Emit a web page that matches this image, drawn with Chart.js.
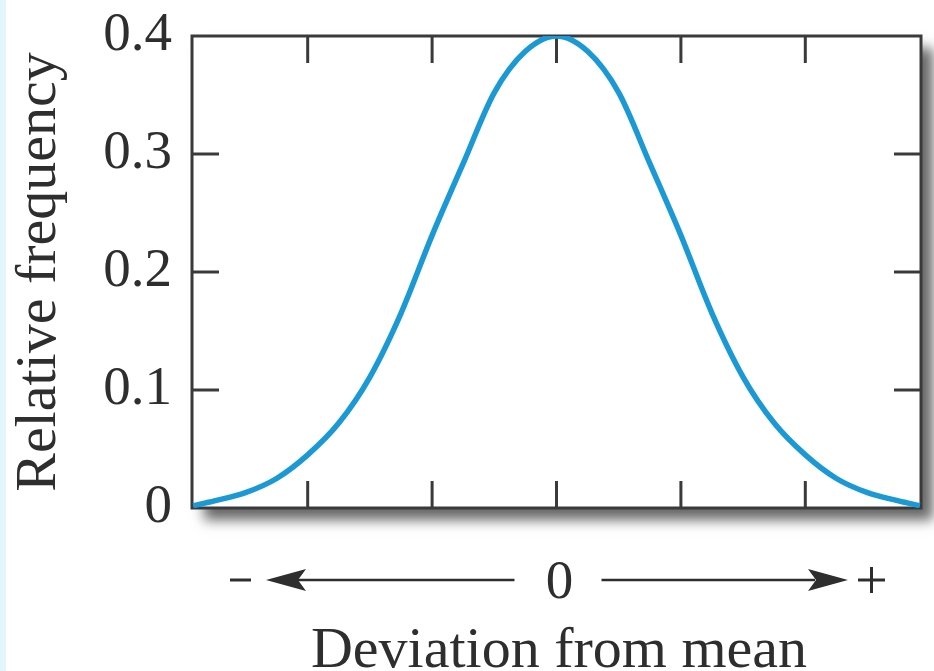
<!DOCTYPE html>
<html>
<head>
<meta charset="utf-8">
<title>Relative frequency</title>
<script src="https://cdn.jsdelivr.net/npm/chart.js@4.4.1/dist/chart.umd.min.js"></script>
<style>
  html, body { margin: 0; padding: 0; background: #fff; }
  body { width: 934px; height: 671px; overflow: hidden; position: relative; }
  #edge { position: absolute; left: 0; top: 0; width: 6px; height: 671px; background: #e3f6fb; }
  canvas { position: absolute; left: 0; top: 0; }
</style>
</head>
<body>
<canvas id="curve" width="934" height="671"></canvas>
<div id="edge"></div>
<script>
// ── DATA ──────────────────────────────────────────────────────
const DEVIATIONS  = [-2.92, -2.75, -2.5, -2.25, -2, -1.75, -1.5, -1.25, -1, -0.75, -0.5, -0.25, 0,
                     0.25, 0.5, 0.75, 1, 1.25, 1.5, 1.75, 2, 2.25, 2.5, 2.75, 2.92];
const FREQUENCIES = [0.002, 0.006, 0.013, 0.025, 0.045, 0.072, 0.111, 0.165, 0.231, 0.292, 0.352, 0.387, 0.400,
                     0.387, 0.352, 0.292, 0.231, 0.165, 0.111, 0.072, 0.045, 0.025, 0.013, 0.006, 0.002];
const Y_TICKS = [0, 0.1, 0.2, 0.3, 0.4];
const X_TICKS = [-2, -1, 0, 1, 2];
const X_RANGE = [-2.93, 2.93];

const INK   = '#2e2e2e';
const SERIF = "'Liberation Serif', 'DejaVu Serif', serif";
const TICK  = 27;

function line(ctx, x1, y1, x2, y2) {
  ctx.beginPath();
  ctx.moveTo(x1, y1);
  ctx.lineTo(x2, y2);
  ctx.stroke();
}

function arrowHead(ctx, tipX, y, dir) {
  // dir = -1 points left, 1 points right
  const len = 40, half = 11, notch = 8;
  ctx.beginPath();
  ctx.moveTo(tipX, y);
  ctx.lineTo(tipX - dir * len, y - half);
  ctx.lineTo(tipX - dir * (len - notch), y);
  ctx.lineTo(tipX - dir * len, y + half);
  ctx.closePath();
  ctx.fill();
}

// ── FRAME, INWARD TICKS, ARROW ROW ────────────────────────────
const framePlugin = {
  id: 'frame',
  beforeDraw(chart) {
    const { ctx, chartArea: a } = chart;
    ctx.save();
    ctx.shadowColor = 'rgba(0,0,0,0.6)';
    ctx.shadowBlur = 12;
    ctx.shadowOffsetX = 12;
    ctx.shadowOffsetY = 12;
    ctx.fillStyle = '#fff';
    ctx.fillRect(a.left, a.top, a.width, a.height);
    ctx.restore();
  },
  beforeDatasetsDraw(chart) {
    const { ctx, chartArea: a, scales: { x, y } } = chart;
    ctx.save();
    ctx.strokeStyle = '#3a3a3a';
    ctx.lineWidth = 3;
    ctx.strokeRect(a.left, a.top, a.width, a.height);
    Y_TICKS.slice(1, -1).forEach(v => {
      const py = y.getPixelForValue(v);
      line(ctx, a.left, py, a.left + TICK, py);
      line(ctx, a.right - TICK, py, a.right, py);
    });
    X_TICKS.forEach(v => {
      const px = x.getPixelForValue(v);
      line(ctx, px, a.top, px, a.top + TICK);
      line(ctx, px, a.bottom - TICK, px, a.bottom);
    });
    ctx.restore();
  },
  afterDraw(chart) {
    const { ctx, scales: { x } } = chart;
    const mid = x.getPixelForValue(0);
    const rowY = 580;
    ctx.save();
    ctx.strokeStyle = INK;
    ctx.fillStyle = INK;

    // minus sign and left arrow
    ctx.lineWidth = 3;
    line(ctx, 230, rowY, 251, rowY);
    ctx.lineWidth = 2.5;
    line(ctx, 295, rowY, mid - 42, rowY);
    arrowHead(ctx, 266, rowY, -1);

    // right arrow and plus sign
    line(ctx, mid + 45, rowY, 815, rowY);
    arrowHead(ctx, 848, rowY, 1);
    ctx.lineWidth = 3;
    line(ctx, 858, rowY, 885, rowY);
    line(ctx, 871.5, rowY - 13, 871.5, rowY + 13);

    ctx.font = `55px ${SERIF}`;
    ctx.textAlign = 'center';
    ctx.textBaseline = 'alphabetic';
    ctx.fillText('0', mid + 3, 598);
    ctx.font = `58px ${SERIF}`;
    ctx.fillText('Deviation from mean', 559, 667);
    ctx.restore();
  }
};

new Chart(document.getElementById('curve'), {
  type: 'line',
  data: {
    datasets: [{
      data: DEVIATIONS.map((d, i) => ({ x: d, y: FREQUENCIES[i] })),
      borderColor: '#1b99d5',
      borderWidth: 5.5,
      pointRadius: 0,
      cubicInterpolationMode: 'monotone',
      fill: false
    }]
  },
  options: {
    responsive: false,
    animation: false,
    events: [],
    layout: { padding: { left: 0, top: 36, right: 13, bottom: 163 } },
    plugins: { legend: { display: false }, tooltip: { enabled: false } },
    scales: {
      x: { type: 'linear', display: false, min: X_RANGE[0], max: X_RANGE[1] },
      y: {
        min: 0,
        max: 0.4,
        afterBuildTicks: s => { s.ticks = Y_TICKS.map(v => ({ value: v })); },
        afterFit: s => { s.width = 192; s.paddingTop = 0; s.paddingBottom = 0; },
        grid: { display: false, drawTicks: false },
        border: { display: false },
        ticks: {
          color: INK,
          padding: 20,
          font: { family: SERIF, size: 55, lineHeight: 0.5 },
          callback: v => v === 0 ? '0' : v.toFixed(1)
        },
        title: {
          display: true,
          text: 'Relative frequency',
          color: INK,
          font: { family: SERIF, size: 58, lineHeight: 1.2 },
          padding: { top: 5, bottom: 0 }
        }
      }
    }
  },
  plugins: [framePlugin]
});
</script>
</body>
</html>
